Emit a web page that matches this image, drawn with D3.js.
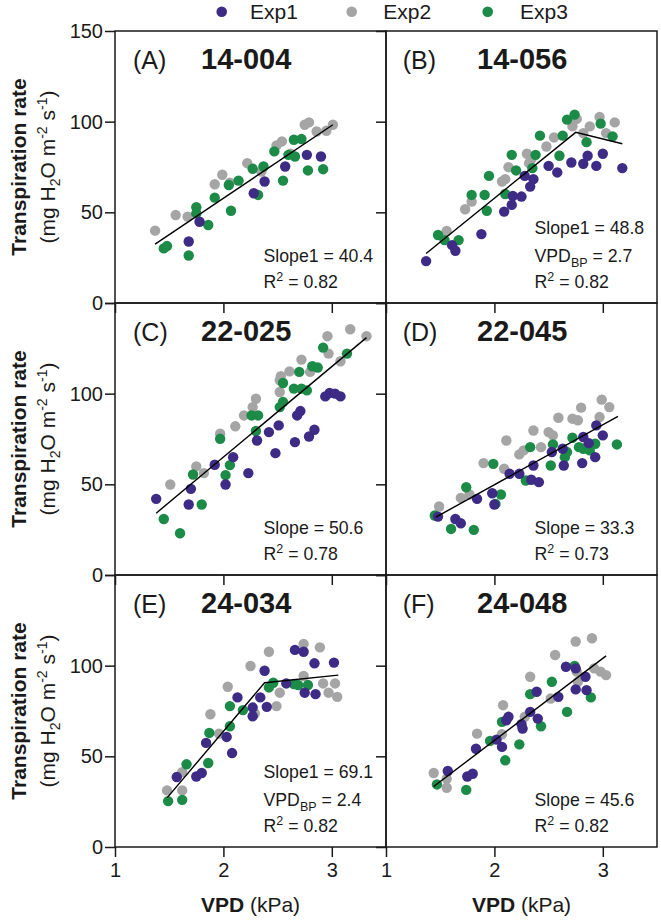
<!DOCTYPE html>
<html><head><meta charset="utf-8">
<script src="https://cdn.jsdelivr.net/npm/d3@7"></script>
<style>body{margin:0;background:#fff}svg{display:block}</style>
</head><body><svg id="c" width="661" height="920"></svg>
<script>
const panelIds = ["A","B","C","D","E","F"];
const genotypes = ["14-004","14-056","22-025","22-045","24-034","24-048"];
const expNames = ["Exp1","Exp2","Exp3"];
const expColors = ["#3d2b86","#a5a5a5","#1c8b47"];
const xTicks = [1,2,3];
const yTicks = [0,50,100,150];
const slopeNames = ["Slope1","Slope1","Slope","Slope","Slope1","Slope"];
const slopeValues = ["40.4","48.8","50.6","33.3","69.1","45.6"];
const vpdBP = [null,"2.7",null,null,"2.4",null];
const r2Values = ["0.82","0.82","0.78","0.73","0.82","0.82"];

const A_exp1 = [[1.68,33.9],[1.78,44.8],[2.28,60.5],[2.38,67.0],[2.57,75.3],[2.77,81.7],[2.90,80.8]];
const A_exp2 = [[1.37,39.9],[1.56,48.5],[1.67,47.6],[1.92,65.5],[1.99,70.7],[2.06,66.4],[2.22,77.1],[2.35,72.5],[2.49,86.9],[2.54,89.1],[2.62,82.3],[2.75,98.3],[2.79,99.6],[2.86,94.6],[2.95,95.0],[3.01,98.3]];
const A_exp3 = [[1.45,30.1],[1.48,31.4],[1.68,26.2],[1.75,52.8],[1.75,49.4],[1.86,43.0],[1.92,58.1],[2.05,65.1],[2.07,50.9],[2.14,67.5],[2.27,74.0],[2.32,59.6],[2.37,75.3],[2.47,83.6],[2.55,67.5],[2.60,81.7],[2.65,90.0],[2.66,80.8],[2.72,90.4],[2.78,73.1],[2.92,73.8]];
const A_fit = [[1.37,32.5],[3.01,98.3]];

const B_exp1 = [[1.37,23.1],[1.61,31.9],[1.64,28.8],[1.88,38.0],[2.09,50.4],[2.16,54.1],[2.17,59.0],[2.25,58.7],[2.28,70.1],[2.33,64.2],[2.36,68.3],[2.50,75.6],[2.58,72.0],[2.71,77.5],[2.82,76.8],[2.86,81.2],[2.94,75.6],[3.00,82.3],[3.18,74.4]];
const B_exp2 = [[1.56,39.7],[1.73,51.7],[1.79,55.9],[2.07,67.0],[2.10,68.3],[2.13,74.9],[2.30,82.3],[2.32,77.1],[2.34,79.3],[2.48,86.3],[2.55,91.3],[2.72,97.4],[2.76,101.5],[2.82,93.7],[2.88,97.4],[2.97,102.6],[3.03,93.7],[3.11,99.6]];
const B_exp3 = [[1.48,37.5],[1.54,34.7],[1.67,34.7],[1.79,59.6],[1.91,59.6],[1.93,50.9],[1.95,70.1],[2.10,60.1],[2.16,81.7],[2.20,73.1],[2.35,74.4],[2.38,81.7],[2.42,92.3],[2.60,81.2],[2.63,92.3],[2.67,101.1],[2.74,103.9],[2.85,88.7],[2.98,98.9],[3.09,91.9]];
const B_fit = [[1.37,27.3],[2.75,94.1],[3.18,87.8]];

const C_exp1 = [[1.38,42.0],[1.68,38.9],[1.70,47.5],[1.92,60.8],[2.02,49.9],[2.09,65.0],[2.23,56.2],[2.31,74.2],[2.42,78.8],[2.48,67.2],[2.51,82.5],[2.66,73.3],[2.68,88.0],[2.71,90.4],[2.79,76.4],[2.84,80.1],[2.94,98.5],[2.98,100.4],[3.03,100.0],[3.08,98.5]];
const C_exp2 = [[1.51,49.9],[1.75,59.9],[1.82,56.2],[1.97,77.9],[2.11,82.0],[2.19,88.0],[2.27,92.6],[2.30,97.2],[2.52,100.9],[2.52,107.4],[2.53,109.6],[2.61,112.3],[2.72,118.8],[2.80,112.0],[2.96,131.7],[2.97,122.1],[3.08,117.9],[3.17,135.5],[3.32,131.7]];
const C_exp3 = [[1.45,30.9],[1.60,23.0],[1.72,55.4],[1.80,38.9],[1.97,75.1],[2.02,55.1],[2.06,60.6],[2.26,88.0],[2.30,79.4],[2.32,88.0],[2.52,92.6],[2.55,95.4],[2.55,105.9],[2.65,102.8],[2.70,112.0],[2.72,102.8],[2.77,101.8],[2.82,115.1],[2.87,114.4],[2.92,125.4],[3.14,122.1]];
const C_fit = [[1.38,34.1],[3.32,130.9]];

const D_exp1 = [[1.48,32.2],[1.64,30.9],[1.69,28.5],[1.84,42.0],[1.98,45.1],[2.00,38.9],[2.14,55.8],[2.23,55.8],[2.34,52.5],[2.36,60.4],[2.41,51.2],[2.53,67.8],[2.63,69.6],[2.64,60.4],[2.81,61.7],[2.82,76.1],[2.87,72.7],[2.93,65.0],[2.94,82.5],[3.00,77.0]];
const D_exp2 = [[1.49,37.8],[1.69,42.5],[1.77,44.4],[1.90,61.7],[2.09,58.6],[2.11,74.2],[2.23,66.5],[2.27,68.7],[2.36,79.7],[2.43,70.5],[2.50,78.8],[2.54,77.0],[2.59,86.7],[2.72,86.2],[2.77,85.3],[2.80,92.3],[2.97,87.1],[2.99,96.7],[3.06,92.6]];
const D_exp3 = [[1.45,32.8],[1.60,25.4],[1.74,48.4],[1.81,24.9],[1.99,61.3],[2.01,39.2],[2.06,44.4],[2.29,52.1],[2.33,70.5],[2.52,60.4],[2.54,72.0],[2.65,65.0],[2.67,67.8],[2.72,75.7],[2.78,70.5],[2.82,69.6],[2.88,68.7],[2.93,72.4],[3.13,72.0]];
const D_fit = [[1.46,31.9],[3.14,87.5]];

const E_exp1 = [[1.57,38.6],[1.75,38.9],[1.80,40.8],[1.84,57.4],[2.03,60.7],[2.08,51.8],[2.13,82.5],[2.27,76.9],[2.27,72.1],[2.34,82.5],[2.38,97.2],[2.40,77.3],[2.58,90.2],[2.66,108.7],[2.74,107.7],[2.75,85.1],[2.84,101.3],[2.85,84.3],[3.02,101.7]];
const E_exp2 = [[1.48,31.2],[1.62,31.2],[1.62,41.3],[1.88,73.2],[1.96,62.5],[2.04,88.4],[2.25,99.8],[2.29,73.6],[2.42,107.7],[2.49,77.7],[2.52,85.1],[2.74,112.0],[2.74,94.3],[2.89,110.1],[2.92,90.2],[2.97,85.1],[3.03,90.2],[3.05,82.8]];
const E_exp3 = [[1.49,25.3],[1.62,26.0],[1.66,45.6],[1.86,46.3],[1.87,62.9],[2.06,77.7],[2.06,66.6],[2.18,75.5],[2.42,88.0],[2.46,90.6],[2.65,89.9],[2.69,89.3],[2.78,89.3]];
const E_fit = [[1.48,27.1],[2.38,90.6],[3.06,94.8]];

const F_exp1 = [[1.57,41.9],[1.75,38.9],[1.80,40.4],[1.83,54.2],[2.02,59.2],[2.07,55.2],[2.11,69.9],[2.13,71.8],[2.25,67.7],[2.26,65.3],[2.33,74.5],[2.39,85.6],[2.40,70.8],[2.59,82.8],[2.66,99.4],[2.75,98.5],[2.75,86.9],[2.84,93.9],[2.85,86.5]];
const F_exp2 = [[1.44,40.8],[1.56,37.6],[1.56,32.7],[1.84,62.5],[2.07,62.2],[2.08,78.2],[2.28,71.8],[2.33,93.9],[2.52,81.9],[2.56,105.9],[2.75,113.3],[2.76,96.7],[2.77,91.1],[2.90,115.1],[2.92,98.5],[2.98,96.7],[3.03,94.8]];
const F_exp3 = [[1.47,34.5],[1.74,31.5],[1.96,58.5],[2.07,69.0],[2.10,47.8],[2.23,56.6],[2.33,84.3],[2.43,66.6],[2.53,91.1],[2.67,74.5],[2.74,99.8],[2.89,82.5]];
const F_fit = [[1.44,33.4],[3.03,105.4]];

const panelData = [
  {exps:[A_exp1,A_exp2,A_exp3], fit:A_fit},
  {exps:[B_exp1,B_exp2,B_exp3], fit:B_fit},
  {exps:[C_exp1,C_exp2,C_exp3], fit:C_fit},
  {exps:[D_exp1,D_exp2,D_exp3], fit:D_fit},
  {exps:[E_exp1,E_exp2,E_exp3], fit:E_fit},
  {exps:[F_exp1,F_exp2,F_exp3], fit:F_fit}
];

const FONT = "'Liberation Sans', Arial, Helvetica, sans-serif";
const INK = "#1a1a1a";
const svg = d3.select("#c").style("font-family", FONT);
const colX = [115, 386], rowY = [31, 303, 575];
const PW = 271, PH = 272;
const x = d3.scaleLinear().domain([1, 3.5]).range([0, PW]);
const y = d3.scaleLinear().domain([0, 150]).range([PH, 0]);
const drawOrder = [1, 2, 0];

panelData.forEach((pd, i) => {
  const col = i % 2, row = Math.floor(i / 2);
  const g = svg.append("g").attr("transform", `translate(${colX[col]},${rowY[row]})`);

  // frame
  g.append("rect").attr("x", 0).attr("y", 0).attr("width", PW).attr("height", PH)
    .attr("fill", "none").attr("stroke", INK).attr("stroke-width", 1.5);

  // y axis
  const ya = d3.axisLeft(y).tickValues(yTicks).tickSize(10).tickSizeOuter(0).tickPadding(2)
    .tickFormat(d => (col === 0 && (row === 0 || d !== 150)) ? d : "");
  const yg = g.append("g").call(ya).style("color", INK);
  yg.select(".domain").remove();
  yg.selectAll("line").attr("stroke-width", 1.5);
  yg.selectAll("text").attr("font-size", 20).attr("font-family", FONT).attr("fill", INK);

  // x axis
  const xa = d3.axisBottom(x).tickValues(xTicks).tickSize(10).tickSizeOuter(0).tickPadding(6)
    .tickFormat(d => row === 2 ? d : "");
  const xg = g.append("g").attr("transform", `translate(0,${PH})`).call(xa).style("color", INK);
  xg.select(".domain").remove();
  xg.selectAll("line").attr("stroke-width", 1.5);
  xg.selectAll("text").attr("font-size", 20).attr("font-family", FONT).attr("fill", INK);

  // points
  drawOrder.forEach(e => {
    g.append("g").selectAll("circle").data(pd.exps[e]).join("circle")
      .attr("cx", d => x(d[0])).attr("cy", d => y(d[1])).attr("r", 5.2)
      .attr("fill", expColors[e]);
  });

  // fit line
  g.append("path").datum(pd.fit)
    .attr("d", d3.line().x(d => x(d[0])).y(d => y(d[1])))
    .attr("fill", "none").attr("stroke", "#000").attr("stroke-width", 1.4);

  // panel label and title
  g.append("text").attr("x", col === 0 ? 18 : 16.7).attr("y", 38.3)
    .attr("font-size", 25).attr("fill", INK).text(`(${panelIds[i]})`);
  g.append("text").attr("x", col === 0 ? 86 : 91).attr("y", 38.3)
    .attr("font-size", 29).attr("font-weight", "bold").attr("fill", INK).text(genotypes[i]);

  // stats
  const sx = 148.5;
  const lines = vpdBP[i] ? [203, 230.5, 256.5] : [231, 256.5];
  let li = 0;
  g.append("text").attr("x", sx).attr("y", lines[li++]).attr("font-size", 17.7).attr("fill", INK)
    .text(`${slopeNames[i]} = ${slopeValues[i]}`);
  if (vpdBP[i]) {
    const t = g.append("text").attr("x", sx).attr("y", lines[li++]).attr("font-size", 17.7).attr("fill", INK);
    t.append("tspan").text("VPD");
    t.append("tspan").attr("font-size", 12.5).attr("dy", 5).text("BP");
    t.append("tspan").attr("dy", -5).text(` = ${vpdBP[i]}`);
  }
  const r = g.append("text").attr("x", sx).attr("y", lines[li++]).attr("font-size", 17.7).attr("fill", INK);
  r.append("tspan").text("R");
  r.append("tspan").attr("font-size", 12.5).attr("dy", -7).text("2");
  r.append("tspan").attr("dy", 7).text(` = ${r2Values[i]}`);

  // y axis title
  if (col === 0) {
    const cy = rowY[row] + PH / 2;
    svg.append("text").attr("transform", `translate(26,${cy}) rotate(-90)`)
      .attr("text-anchor", "middle").attr("font-size", 21).attr("font-weight", "bold").attr("fill", INK)
      .text("Transpiration rate");
    const t2 = svg.append("text").attr("transform", `translate(55,${cy}) rotate(-90)`)
      .attr("text-anchor", "middle").attr("font-size", 21).attr("fill", INK);
    t2.append("tspan").text("(mg H");
    t2.append("tspan").attr("font-size", 14).attr("dy", 5).text("2");
    t2.append("tspan").attr("dy", -5).text("O m");
    t2.append("tspan").attr("font-size", 14).attr("dy", -8).text("-2");
    t2.append("tspan").attr("dy", 8).text(" s");
    t2.append("tspan").attr("font-size", 14).attr("dy", -8).text("-1");
    t2.append("tspan").attr("dy", 8).text(")");
  }

  // x axis title
  if (row === 2) {
    const t = svg.append("text").attr("x", colX[col] + PW / 2).attr("y", 911.5)
      .attr("text-anchor", "middle").attr("font-size", 21).attr("fill", INK);
    t.append("tspan").attr("font-weight", "bold").text("VPD");
    t.append("tspan").text(" (kPa)");
  }
});

// legend
const legX = [221.7, 351.7, 487.7];
const legTextX = [250, 383.3, 520];
expNames.forEach((n, e) => {
  svg.append("circle").attr("cx", legX[e]).attr("cy", 11.7).attr("r", 5.3).attr("fill", expColors[e]);
  svg.append("text").attr("x", legTextX[e]).attr("y", 18.5).attr("font-size", 21).attr("fill", INK).text(n);
});
</script>
</body></html>
